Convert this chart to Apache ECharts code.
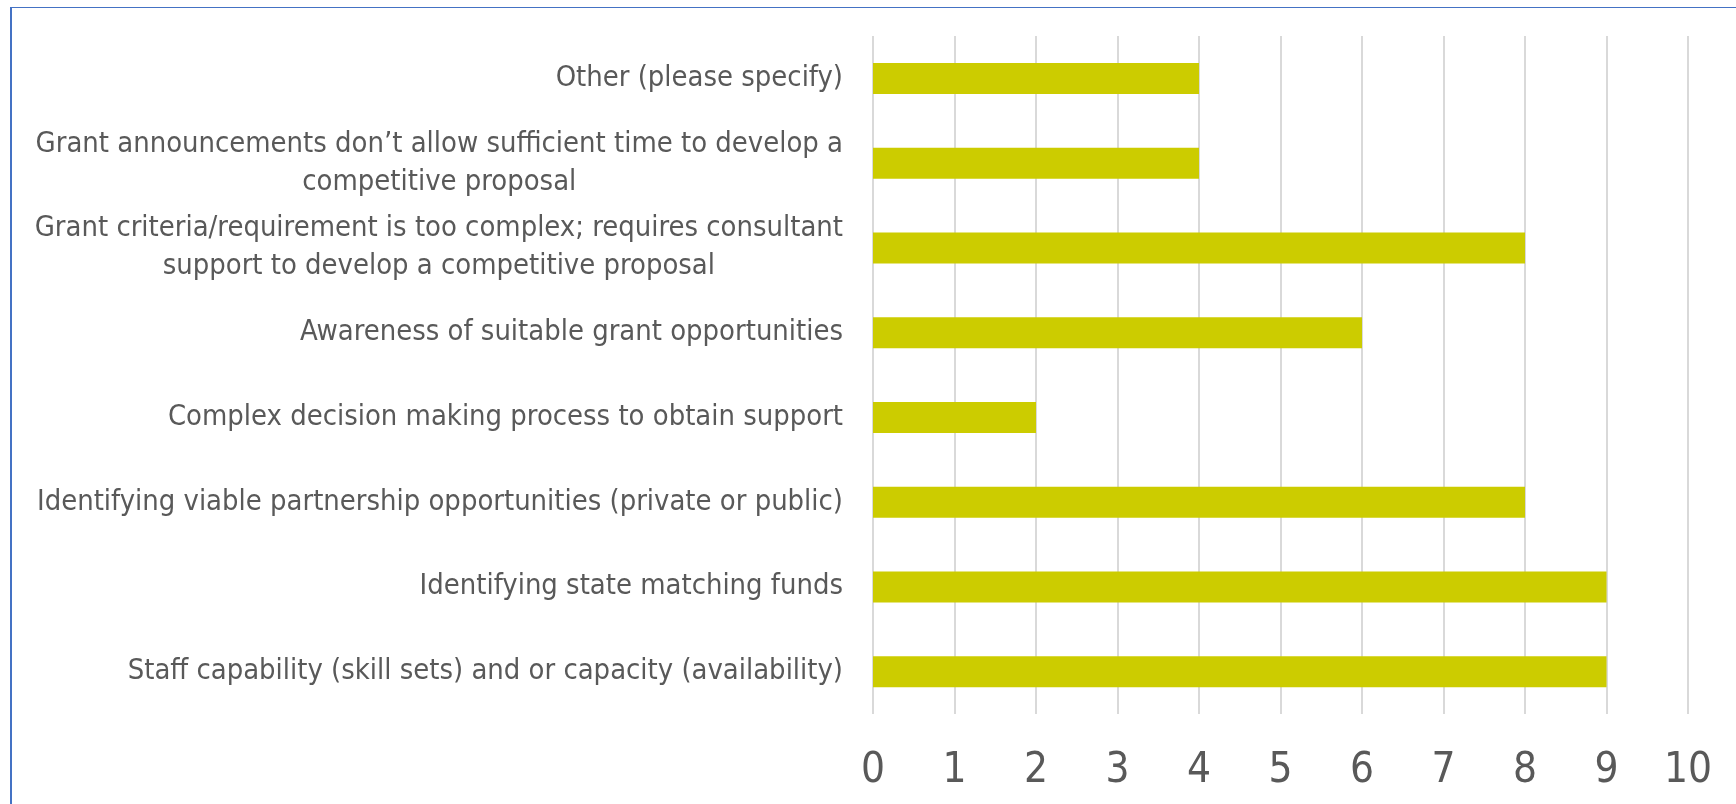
<!DOCTYPE html>
<html>
<head>
<meta charset="utf-8">
<script src="https://cdn.jsdelivr.net/npm/echarts@6/dist/echarts.min.js"></script>
<style>
html,body{margin:0;padding:0;background:#fff;}
#frame{position:absolute;left:0;top:0;width:1736px;height:804px;}
#border{position:absolute;left:10px;top:7px;width:1726px;height:797px;border-top:1px solid #4472c4;border-left:2px solid #4472c4;box-sizing:border-box;pointer-events:none;}
#chart{position:absolute;left:0;top:0;width:1736px;height:804px;}
</style>
</head>
<body>
<div id="frame">
<div id="chart"></div>
<div id="border"></div>
</div>
<script>
const categories = [
  "Staff capability (skill sets) and or capacity (availability)",
  "Identifying state matching funds",
  "Identifying viable partnership opportunities (private or public)",
  "Complex decision making process to obtain support",
  "Awareness of suitable grant opportunities",
  "Grant criteria/requirement is too complex; requires consultant\nsupport to develop a competitive proposal",
  "Grant announcements don\u2019t allow sufficient time to develop a\ncompetitive proposal",
  "Other (please specify)"
];
const values = [9, 9, 8, 2, 6, 8, 4, 4];
const xTicks = [0, 1, 2, 3, 4, 5, 6, 7, 8, 9, 10];

const FONT = '"Liberation Sans Narrow", "DejaVu Sans Condensed", "Liberation Sans", sans-serif';
const chart = echarts.init(document.getElementById('chart'), null, {renderer: 'canvas'});
chart.setOption({
  animation: false,
  backgroundColor: '#ffffff',
  grid: {left: 873, right: 48, top: 36, bottom: 90, containLabel: false},
  xAxis: {
    type: 'value',
    min: xTicks[0],
    max: xTicks[xTicks.length - 1],
    interval: 1,
    axisLine: {show: false},
    axisTick: {show: false},
    splitLine: {show: true, lineStyle: {color: '#d9d9d9', width: 2}},
    axisLabel: {
      color: '#595959', fontSize: 42, fontFamily: FONT, margin: 36,
      formatter: v => String(v)
    }
  },
  yAxis: {
    type: 'category',
    data: categories,
    axisLine: {show: false},
    axisTick: {show: false},
    splitLine: {show: false},
    axisLabel: {
      color: '#595959', fontSize: 28.9, fontFamily: FONT, margin: 30,
      lineHeight: 38,
      formatter: function (v) {
        return v.split('\n').map(l => '{c|' + l + '}').join('\n');
      },
      rich: {c: {align: 'center', fontSize: 28.9, fontFamily: FONT, color: '#595959', lineHeight: 38}}
    }
  },
  series: [{
    type: 'bar',
    data: values,
    barWidth: 31,
    itemStyle: {color: '#cccc00'}
  }]
});
</script>
</body>
</html>
